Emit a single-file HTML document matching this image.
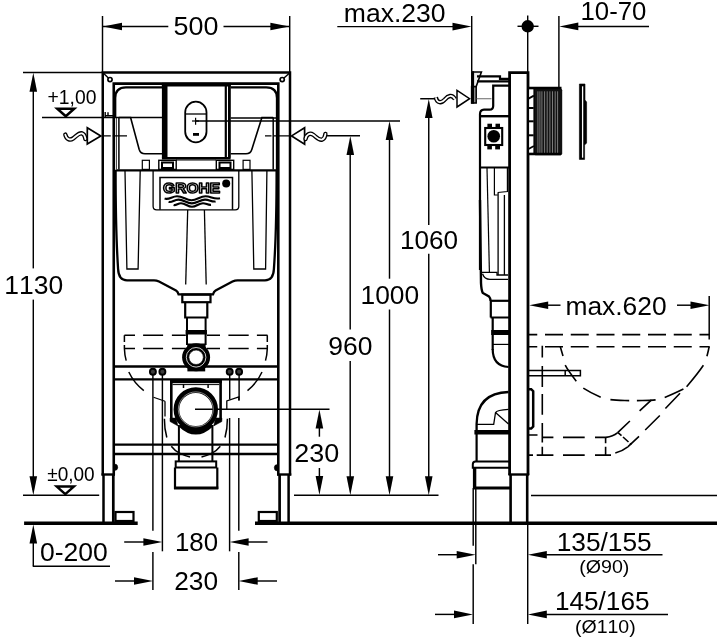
<!DOCTYPE html>
<html lang="en"><head><meta charset="utf-8"><title>Installation dimensions</title>
<style>html,body{margin:0;padding:0;background:#fff;}body{width:720px;height:640px;overflow:hidden;}svg{display:block;will-change:transform;}svg text{font-family:"Liberation Sans",sans-serif;fill:#000;stroke:none;font-kerning:none;}</style></head><body>
<svg width="720" height="640" viewBox="0 0 720 640" fill="none" stroke="#000" stroke-linecap="butt" stroke-linejoin="miter">
<rect x="0" y="0" width="720" height="640" fill="#fff" stroke="none"/>
<g id="dims">
<line x1="102.5" y1="16" x2="102.5" y2="72" stroke-width="1.45" />
<line x1="289.7" y1="16" x2="289.7" y2="72" stroke-width="1.45" />
<line x1="103" y1="26.5" x2="168.3" y2="26.5" stroke-width="1.45" />
<line x1="223.5" y1="26.5" x2="289.2" y2="26.5" stroke-width="1.45" />
<polygon points="103,26.5 122,22.7 122,30.3" fill="#000" stroke="none"/>
<polygon points="289.4,26.5 270.4,22.7 270.4,30.3" fill="#000" stroke="none"/>
<text transform="translate(173.56,35.35) scale(1.035,1)" font-size="26">500</text>
<line x1="23" y1="72.5" x2="102" y2="72.5" stroke-width="1.45" />
<line x1="33.3" y1="80" x2="33.3" y2="268.4" stroke-width="1.45" />
<line x1="33.3" y1="299.6" x2="33.3" y2="490" stroke-width="1.45" />
<polygon points="33.3,72.7 29.5,91.7 37.1,91.7" fill="#000" stroke="none"/>
<polygon points="33.3,495.2 29.5,476.2 37.1,476.2" fill="#000" stroke="none"/>
<text transform="translate(4.27,293.55) scale(1.017,1)" font-size="26">1130</text>
<text transform="translate(47.51,103.60) scale(0.986,1)" font-size="19.6">+1,00</text>
<path d="M57.3,108.8 H74.2 L65.75,116.3 Z" stroke-width="2.5" fill="none" />
<line x1="42" y1="117.5" x2="162" y2="117.5" stroke-width="1.45" />
<text transform="translate(47.26,481.05) scale(0.971,1)" font-size="19.6">±0,00</text>
<path d="M56.8,486.6 H73.8 L65.3,494.1 Z" stroke-width="2.5" fill="none" />
<line x1="23" y1="495.3" x2="99.2" y2="495.3" stroke-width="1.45" />
<line x1="33.3" y1="540" x2="33.3" y2="566.3" stroke-width="1.45" />
<line x1="32.8" y1="566.3" x2="110" y2="566.3" stroke-width="1.45" />
<polygon points="33.3,524.6 29.5,543.6 37.1,543.6" fill="#000" stroke="none"/>
<text transform="translate(39.98,560.75) scale(1.020,1)" font-size="26">0-200</text>
<line x1="124.2" y1="542" x2="150" y2="542" stroke-width="1.45" />
<polygon points="162.4,542 143.4,538.2 143.4,545.8" fill="#000" stroke="none"/>
<line x1="267.5" y1="542" x2="240" y2="542" stroke-width="1.45" />
<polygon points="229.6,542 248.6,538.2 248.6,545.8" fill="#000" stroke="none"/>
<text transform="translate(175.01,551.10) scale(0.994,1)" font-size="26">180</text>
<line x1="115" y1="581" x2="140" y2="581" stroke-width="1.45" />
<polygon points="153,581 134,577.2 134,584.8" fill="#000" stroke="none"/>
<line x1="277" y1="581" x2="250" y2="581" stroke-width="1.45" />
<polygon points="238.7,581 257.7,577.2 257.7,584.8" fill="#000" stroke="none"/>
<text transform="translate(174.23,589.85) scale(1.012,1)" font-size="26">230</text>
<line x1="152.9" y1="375" x2="152.9" y2="530.8" stroke-width="1.45" />
<line x1="152.9" y1="552" x2="152.9" y2="590" stroke-width="1.45" />
<line x1="162.4" y1="375" x2="162.4" y2="551.3" stroke-width="1.45" />
<line x1="229.6" y1="418" x2="229.6" y2="551.3" stroke-width="1.45" />
<line x1="238.8" y1="418" x2="238.8" y2="530.8" stroke-width="1.45" />
<line x1="238.8" y1="552" x2="238.8" y2="590" stroke-width="1.45" />
<line x1="195" y1="409.25" x2="329.5" y2="409.25" stroke-width="1.45" />
<line x1="319.4" y1="420" x2="319.4" y2="436.7" stroke-width="1.45" />
<line x1="319.4" y1="468" x2="319.4" y2="485" stroke-width="1.45" />
<polygon points="319.4,409.6 315.6,428.6 323.2,428.6" fill="#000" stroke="none"/>
<polygon points="319.4,495 315.6,476 323.2,476" fill="#000" stroke="none"/>
<text transform="translate(294.30,462.05) scale(1.037,1)" font-size="26">230</text>
<line x1="325" y1="135.75" x2="360" y2="135.75" stroke-width="1.45" />
<line x1="350.2" y1="145" x2="350.2" y2="329.5" stroke-width="1.45" />
<line x1="350.2" y1="361" x2="350.2" y2="485" stroke-width="1.45" />
<polygon points="350.3,135.9 346.5,154.9 354.1,154.9" fill="#000" stroke="none"/>
<polygon points="350.3,495.2 346.5,476.2 354.1,476.2" fill="#000" stroke="none"/>
<text transform="translate(328.23,355.35) scale(1.018,1)" font-size="26">960</text>
<line x1="196" y1="120.9" x2="400" y2="120.9" stroke-width="1.45" />
<line x1="389.5" y1="130" x2="389.5" y2="278.7" stroke-width="1.45" />
<line x1="389.5" y1="309.5" x2="389.5" y2="485" stroke-width="1.45" />
<polygon points="389.5,121 385.7,140 393.3,140" fill="#000" stroke="none"/>
<polygon points="389.5,495.2 385.7,476.2 393.3,476.2" fill="#000" stroke="none"/>
<text transform="translate(360.47,304.35) scale(1.014,1)" font-size="26">1000</text>
<line x1="420.2" y1="98.75" x2="436" y2="98.75" stroke-width="1.45" />
<line x1="428.75" y1="108" x2="428.75" y2="225" stroke-width="1.45" />
<line x1="428.75" y1="253.7" x2="428.75" y2="485" stroke-width="1.45" />
<polygon points="428.75,98.9 424.95,117.9 432.55,117.9" fill="#000" stroke="none"/>
<polygon points="428.75,495.2 424.95,476.2 432.55,476.2" fill="#000" stroke="none"/>
<text transform="translate(399.99,248.60) scale(1.005,1)" font-size="26">1060</text>
<line x1="294" y1="495.2" x2="438.5" y2="495.2" stroke-width="1.45" />
<line x1="337.3" y1="26.6" x2="460" y2="26.6" stroke-width="1.45" />
<polygon points="471.5,26.6 452.5,22.8 452.5,30.4" fill="#000" stroke="none"/>
<line x1="471.7" y1="16" x2="471.7" y2="71.5" stroke-width="1.45" />
<text transform="translate(343.81,21.75) scale(1.021,1)" font-size="26">max.230</text>
<circle cx="527.7" cy="26.3" r="6.2" stroke-width="0" fill="#000" stroke="none"/>
<line x1="517.5" y1="26.3" x2="538.5" y2="26.3" stroke-width="1.45" />
<line x1="527.7" y1="15.5" x2="527.7" y2="72" stroke-width="1.45" />
<line x1="558.9" y1="16" x2="558.9" y2="87.5" stroke-width="1.45" />
<polygon points="559.3,26.4 578.3,22.6 578.3,30.2" fill="#000" stroke="none"/>
<line x1="570" y1="26.4" x2="649" y2="26.4" stroke-width="1.45" />
<text transform="translate(580.52,20.35) scale(0.992,1)" font-size="26">10-70</text>
<polygon points="529.2,305.2 548.2,301.4 548.2,309.0" fill="#000" stroke="none"/>
<line x1="540" y1="305.2" x2="560.5" y2="305.2" stroke-width="1.45" />
<line x1="677" y1="305.2" x2="700" y2="305.2" stroke-width="1.45" />
<polygon points="709.5,305.2 690.5,301.4 690.5,309.0" fill="#000" stroke="none"/>
<text transform="translate(565.42,314.85) scale(1.016,1)" font-size="26">max.620</text>
<line x1="438" y1="554.7" x2="465" y2="554.7" stroke-width="1.45" />
<polygon points="475.7,554.7 456.7,550.9 456.7,558.5" fill="#000" stroke="none"/>
<polygon points="527.8,554.7 546.8,550.9 546.8,558.5" fill="#000" stroke="none"/>
<line x1="540" y1="554.7" x2="662.5" y2="554.7" stroke-width="1.45" />
<text transform="translate(556.73,550.60) scale(1.011,1)" font-size="26">135/155</text>
<text transform="translate(579.18,573.05) scale(1.056,1)" font-size="18.6">(Ø90)</text>
<line x1="435" y1="614.4" x2="460" y2="614.4" stroke-width="1.45" />
<polygon points="473,614.4 454,610.6 454,618.2" fill="#000" stroke="none"/>
<polygon points="527.8,614.4 546.8,610.6 546.8,618.2" fill="#000" stroke="none"/>
<line x1="540" y1="614.4" x2="668" y2="614.4" stroke-width="1.45" />
<text transform="translate(554.99,609.85) scale(1.006,1)" font-size="26">145/165</text>
<text transform="translate(574.94,632.65) scale(1.050,1)" font-size="18.6">(Ø110)</text>
<line x1="475.8" y1="488" x2="475.8" y2="564.3" stroke-width="1.45" />
<line x1="473.2" y1="488" x2="473.2" y2="545.7" stroke-width="1.45" />
<line x1="473.2" y1="564.3" x2="473.2" y2="624" stroke-width="1.45" />
<line x1="527.7" y1="523" x2="527.7" y2="624" stroke-width="1.45" />
<line x1="531" y1="495.4" x2="717" y2="495.4" stroke-width="1.45" />
</g>
<g id="ground">
<line x1="24.1" y1="523.2" x2="137.7" y2="523.2" stroke-width="3.5" />
<line x1="255" y1="523.2" x2="717" y2="523.2" stroke-width="3.5" />
</g>
<g id="front">
<path d="M102.75,475.5 V72.5 H290 V475.5" stroke-width="2.5" fill="none" />
<path d="M113.75,475.5 V83.6 H278.3 V475.5" stroke-width="2.6" fill="none" />
<line x1="101.5" y1="474.5" x2="115" y2="474.5" stroke-width="2.4" />
<line x1="277" y1="474.5" x2="291.3" y2="474.5" stroke-width="2.4" />
<line x1="103.5" y1="474" x2="103.5" y2="523" stroke-width="2.5" />
<line x1="113.3" y1="474" x2="113.3" y2="523" stroke-width="2.7" />
<line x1="279.6" y1="474" x2="279.6" y2="523" stroke-width="2.7" />
<line x1="288.6" y1="474" x2="288.6" y2="523" stroke-width="2.5" />
<rect x="115.5" y="512" width="18.0" height="9" stroke-width="2.2" fill="none" />
<rect x="258.8" y="512" width="18.0" height="9" stroke-width="2.2" fill="none" />
<circle cx="110" cy="79.6" r="2.1" stroke-width="1.7" fill="none" />
<line x1="103.5" y1="73.3" x2="108.4" y2="78" stroke-width="1.4" />
<circle cx="282.2" cy="79.6" r="2.1" stroke-width="1.7" fill="none" />
<line x1="289.3" y1="73.3" x2="284" y2="78" stroke-width="1.4" />
<path d="M114.5,464 a3,3 0 0 1 0,6.5 Z" stroke-width="0.5" fill="#000" />
<path d="M277.5,464.5 a3,3 0 0 0 0,6.5 Z" stroke-width="0.5" fill="#000" />
<line x1="113.75" y1="366.5" x2="278.3" y2="366.5" stroke-width="2.3" />
<line x1="113.75" y1="379.4" x2="278.3" y2="379.4" stroke-width="2.3" />
<line x1="113.75" y1="444.6" x2="278.3" y2="444.6" stroke-width="2.3" />
<line x1="113.75" y1="454" x2="278.3" y2="454" stroke-width="2.3" />
<path d="M115.2,118 V98 Q115.2,87.3 126,87.3 H162" stroke-width="2.3" fill="none" />
<path d="M277,170 V98 Q277,87.3 266.2,87.3 H230.5" stroke-width="2.3" fill="none" />
<rect x="161.9" y="84" width="5.6" height="73.5" stroke-width="0" fill="#000" stroke="none"/>
<line x1="225.8" y1="84" x2="225.8" y2="157.5" stroke-width="2.2" />
<line x1="229.4" y1="84" x2="229.4" y2="157.5" stroke-width="2.8" />
<line x1="161.9" y1="158.3" x2="230.6" y2="158.3" stroke-width="2.4" />
<line x1="161.9" y1="84.6" x2="230.6" y2="84.6" stroke-width="3.6" />
<rect x="185.2" y="101.7" width="21.3" height="40.6" stroke-width="1.8" fill="none" rx="10.65" ry="10.65"/>
<line x1="185.5" y1="114" x2="206" y2="114" stroke-width="1.3" />
<line x1="195.6" y1="117.8" x2="195.6" y2="124.8" stroke-width="1.2" />
<line x1="192" y1="121" x2="199" y2="121" stroke-width="1.2" />
<rect x="193" y="133" width="6" height="2.8" stroke-width="0" fill="#000" stroke="none"/>
<line x1="230.6" y1="118" x2="276" y2="118" stroke-width="1.45" />
<path d="M118.9,117.5 V169.4" stroke-width="1.5" fill="none" />
<line x1="116.4" y1="118" x2="116.4" y2="169" stroke-width="0.8" />
<path d="M118.8,117.5 H130.6 L139.2,149.5 Q140.5,153.8 145,153.8 H162" stroke-width="1.6" fill="none" />
<path d="M273.2,117.5 V169.4" stroke-width="1.5" fill="none" />
<path d="M273.2,117.5 H261.9 L251.8,149.5 Q250.5,153.8 246,153.8 H230.6" stroke-width="1.6" fill="none" />
<path d="M105.2,112 V117 M104.8,115.8 H113 M108,112.3 V115.5" stroke-width="1.4" fill="none" />
<path d="M103.7,135.8 L110.8,135.8 M112.8,135.8 L127,135.8" stroke-width="1.3" fill="none" />
<path d="M265,135.8 L271.5,135.8 M274,135.8 L291,135.8" stroke-width="1.3" fill="none" />
<rect x="142.3" y="160.3" width="7.1" height="9.1" stroke-width="1.2" fill="none" />
<rect x="243.1" y="160.3" width="6.9" height="9.1" stroke-width="1.2" fill="none" />
<rect x="158.8" y="160.3" width="17.4" height="9.1" stroke-width="1.4" fill="none" />
<rect x="162" y="162.5" width="11" height="5.5" stroke-width="2" fill="none" />
<rect x="216.3" y="160.3" width="17.4" height="9.1" stroke-width="1.4" fill="none" />
<rect x="219.5" y="162.5" width="11.0" height="5.5" stroke-width="2" fill="none" />
<line x1="176" y1="160" x2="216" y2="160" stroke-width="1" />
<line x1="115.6" y1="170.3" x2="276.6" y2="170.3" stroke-width="2.2" />
<path d="M115.6,170 Q115.6,232 118.1,269 Q118.6,280.3 127,280.3 H154 Q156.5,280.3 159,281.6 L176,290.6 Q177.8,291.6 178.6,294.4 H213 Q213.8,291.6 215.6,290.6 L232.5,281.6 Q235,280.3 237.5,280.3 H265 Q273.4,280.3 273.9,269 Q276.6,232 276.6,170" stroke-width="2.3" fill="none" />
<path d="M125,171 L126.9,269 H138.1 L140.2,171" stroke-width="1.3" fill="none" />
<path d="M251.9,171 L253.8,269 H265.6 L266.9,171" stroke-width="1.3" fill="none" />
<path d="M153.1,170 V206.2 Q153.1,209.8 156.7,209.8 H235.2 Q238.8,209.8 238.8,206.2 V170" stroke-width="1.3" fill="none" />
<path d="M160,209.8 V177.5 H232.5 V209.8" stroke-width="1.5" fill="none" />
<text x="163" y="193.2" font-size="14.6" font-weight="bold" textLength="57.2" lengthAdjust="spacingAndGlyphs" style="fill:#fff;stroke:#000;stroke-width:1.5px;stroke-linejoin:round">GROHE</text>
<circle cx="226.2" cy="183.6" r="4" stroke-width="0" fill="#000" stroke="none"/>
<path d="M164.6,198.6 C169,200.2 172,196.2 177,196.2 C183,196.2 186,200.2 191.5,200.2 C197,200.2 200,196.2 205.5,196.2 C211,196.2 214,199.8 220,198.2" stroke-width="2.1" fill="none" />
<path d="M168.6,201.8 C172,203 174,199.6 178.5,199.6 C184,199.6 186.5,203.4 191.8,203.4 C197,203.4 200,199.6 205,199.6 C209.5,199.6 212,202.4 215.6,201.4" stroke-width="2.1" fill="none" />
<path d="M173.6,205 C176,205.8 178,203.2 181,203.2 C185.5,203.2 187.5,206.8 192,206.8 C196.5,206.8 198.5,203.2 203,203.2 C206,203.2 208,205.2 211,204.8" stroke-width="2.1" fill="none" />
<line x1="187.7" y1="210" x2="185.7" y2="284.4" stroke-width="1.3" />
<line x1="204.4" y1="210" x2="206.2" y2="284.4" stroke-width="1.3" />
<rect x="182.3" y="294.6" width="28.2" height="7.6" stroke-width="2.2" fill="none" />
<path d="M185.2,302 V317.5 H207.3 V302" stroke-width="2.2" fill="none" />
<path d="M187,317.5 V345 M205.6,317.5 V345" stroke-width="2" fill="none" />
<rect x="185.6" y="330" width="21.3" height="4.5" stroke-width="0" fill="#000" stroke="none"/>
<circle cx="196.1" cy="357.3" r="14" stroke-width="0" fill="#000" stroke="none"/>
<rect x="187.3" y="343.5" width="18.3" height="4.5" stroke-width="0" fill="#000" stroke="none"/>
<rect x="187.4" y="366" width="17.8" height="5.4" stroke-width="0" fill="#000" stroke="none"/>
<circle cx="196.1" cy="357.3" r="9.8" stroke-width="0.8" fill="none" stroke="#fff"/>
<circle cx="196.1" cy="357.3" r="7.2" stroke-width="0" fill="#fff" stroke="none"/>
<circle cx="196.1" cy="357.3" r="7.2" stroke-width="0.6" fill="none" stroke="#000"/>
<circle cx="152.9" cy="371.8" r="3" stroke-width="1.9" fill="#3a3a3a" />
<circle cx="162.4" cy="371.8" r="3" stroke-width="1.9" fill="#3a3a3a" />
<circle cx="229.7" cy="371.8" r="3" stroke-width="1.9" fill="#3a3a3a" />
<circle cx="239.1" cy="371.8" r="3" stroke-width="1.9" fill="#3a3a3a" />
<path d="M153.5,397.2 L165,401.3" stroke-width="1.2" fill="none" />
<path d="M226.8,409.3 V401 L238.8,396.9 V400.5" stroke-width="1.3" fill="none" />
<line x1="229.7" y1="375" x2="229.7" y2="399.5" stroke-width="1.45" />
<line x1="239.1" y1="375" x2="239.1" y2="400.5" stroke-width="1.45" />
<line x1="165" y1="401.3" x2="165" y2="416.5" stroke-width="1.3" />
<path d="M124.4,335.3 L135,335.3 M143.1,335.3 L163.1,335.3 M171.9,335.3 L185.8,335.3 M206.9,335.3 L220,335.3 M228.4,335.3 L248.7,335.3 M256.9,335.3 L267.5,335.3" stroke-width="1.5" fill="none" />
<path d="M124.4,348.5 L135,348.5 M143.1,348.5 L163.1,348.5 M171.9,348.5 L185.8,348.5 M206.9,348.5 L220,348.5 M228.4,348.5 L248.7,348.5 M256.9,348.5 L267.5,348.5" stroke-width="1.5" fill="none" />
<path d="M124.4,335.3 V342 M124.4,345 V348.5 Q124.6,355 126.2,360.6" stroke-width="1.5" fill="none" />
<path d="M267.3,335.3 V342 M267.3,345 V348.5 Q267.1,355 265.5,360.6" stroke-width="1.5" fill="none" />
<path d="M128.8,372 Q134,383 143.8,390.6" stroke-width="1.5" fill="none" />
<path d="M262,372 Q257,383 247.5,390.6" stroke-width="1.5" fill="none" />
<path d="M164.4,418.8 Q164.4,429 166.8,437.5" stroke-width="1.5" fill="none" />
<path d="M227.4,418.8 Q227.4,429 225,437.5" stroke-width="1.5" fill="none" />
<path d="M171.3,446.3 Q175,451 179.5,453.2 Q184,455.5 190,457" stroke-width="1.5" fill="none" />
<path d="M220.3,446.3 Q216.5,451 212,453.2 Q207.5,455.5 201.5,457" stroke-width="1.5" fill="none" />
<rect x="170" y="379.4" width="51.9" height="3.8" stroke-width="0" fill="#000" stroke="none"/>
<line x1="172.5" y1="384.6" x2="219.4" y2="384.6" stroke-width="1" />
<line x1="171.3" y1="380" x2="171.3" y2="420" stroke-width="2.6" />
<line x1="220.6" y1="380" x2="220.6" y2="420" stroke-width="2.6" />
<line x1="183.5" y1="384" x2="183.5" y2="388" stroke-width="1.5" />
<line x1="208.1" y1="384" x2="208.1" y2="388" stroke-width="1.5" />
<circle cx="195.8" cy="409.5" r="19.4" stroke-width="5.6" fill="none" />
<circle cx="195.8" cy="409.4" r="17.5" stroke-width="0.5" fill="none" stroke="#fff"/>
<path d="M176,418 L170,418 V421.5 L178,426 Z" stroke-width="0.5" fill="#000" />
<path d="M215.6,418 L221.9,418 V421.5 L213.6,426 Z" stroke-width="0.5" fill="#000" />
<path d="M180,425 Q195.8,440 211.6,425" stroke-width="4" fill="none" />
<line x1="178.9" y1="425" x2="178.9" y2="461" stroke-width="2" />
<line x1="212.4" y1="425" x2="212.4" y2="461" stroke-width="2" />
<rect x="175.7" y="461.4" width="40.5" height="6.1" stroke-width="2" fill="none" />
<path d="M175,467.5 V488 H217.3 V467.5" stroke-width="2.2" fill="none" />
<line x1="174" y1="488" x2="218.3" y2="488" stroke-width="3" />
</g>
<g id="inlets">
<path d="M87.3,127.8 L100.8,135.9 L87.3,144.1 Z" stroke-width="1.7" fill="none" />
<path d="M65.3,134.6 C66.5,139.6 70,140.6 73.2,138.4 S79,132.4 82,133.4 S85,137 85.4,139" stroke-width="4.4" fill="none" stroke-linecap="round"/>
<path d="M65.3,134.6 C66.5,139.6 70,140.6 73.2,138.4 S79,132.4 82,133.4 S85,137 85.4,139" stroke-width="1.8" fill="none" stroke="#fff" stroke-linecap="round"/>
<path d="M304.6,127.8 L291.6,135.9 L304.6,144.1 Z" stroke-width="1.7" fill="none" />
<path d="M305.5,139 C306.5,134 310,132.6 313.2,134.8 S319,140.6 322,139.6 S325,136 325.4,134" stroke-width="4.4" fill="none" stroke-linecap="round"/>
<path d="M305.5,139 C306.5,134 310,132.6 313.2,134.8 S319,140.6 322,139.6 S325,136 325.4,134" stroke-width="1.8" fill="none" stroke="#fff" stroke-linecap="round"/>
</g>
<g id="side">
<path d="M509.6,475 V72.6 H528 V475" stroke-width="2.8" fill="none" />
<line x1="508.5" y1="474.5" x2="529.2" y2="474.5" stroke-width="2.4" />
<line x1="510.6" y1="474" x2="510.6" y2="523" stroke-width="2.6" />
<line x1="527.2" y1="474" x2="527.2" y2="523" stroke-width="2.6" />
<line x1="435" y1="98.75" x2="436" y2="98.75" stroke-width="1.45" />
<path d="M435.8,97.3 C437,103.2 441.5,103.6 445,99.4 C448,95.6 452,94.2 455,99.2" stroke-width="4.4" fill="none" />
<path d="M435.8,97.3 C437,103.2 441.5,103.6 445,99.4 C448,95.6 452,94.2 455,99.2" stroke-width="1.7" fill="none" stroke="#fff"/>
<path d="M457,90.3 L469.6,98.7 L457,107 Z" stroke-width="1.5" fill="none" />
<rect x="471.6" y="86.5" width="4.6" height="16.5" stroke-width="1.5" fill="#999" />
<path d="M472,86.5 V72 H481.4 L476.2,86.5 Z" stroke-width="1.6" fill="#eee" />
<line x1="472.6" y1="71.2" x2="472.6" y2="103.7" stroke-width="3" />
<path d="M477,76.3 H500 V78.8 H509 M477,81.4 H509" stroke-width="2.2" fill="none" />
<line x1="476.5" y1="98.75" x2="491.5" y2="98.75" stroke-width="1" stroke="#666"/>
<path d="M509,85.6 H493.2 V106 Q493.2,109.6 489.5,109.7 H484 Q480,109.9 480,114 V270" stroke-width="2.2" fill="none" />
<line x1="480" y1="116.2" x2="509" y2="116.2" stroke-width="2.4" />
<rect x="485.2" y="128" width="17.0" height="17" stroke-width="2.1" fill="none" />
<rect x="487.4" y="123.7" width="4.6" height="4.3" stroke-width="0" fill="#000" stroke="none"/>
<rect x="495.5" y="123.7" width="4.5" height="4.3" stroke-width="0" fill="#000" stroke="none"/>
<rect x="487.3" y="145" width="4.6" height="4.4" stroke-width="0" fill="#000" stroke="none"/>
<rect x="495.2" y="145" width="4.8" height="4.4" stroke-width="0" fill="#000" stroke="none"/>
<circle cx="493.75" cy="136.3" r="6.3" stroke-width="0" fill="#000" stroke="none"/>
<line x1="480" y1="167.5" x2="509" y2="167.5" stroke-width="2" />
<path d="M487,168 L489.4,272" stroke-width="1.2" fill="none" />
<path d="M494.4,168 V195 H497.8" stroke-width="1.2" fill="none" />
<path d="M507.4,168 V191.5 L497.8,192.5" stroke-width="1.2" fill="none" />
<path d="M498.1,192.5 V275 M504.4,195 V275" stroke-width="1.3" fill="none" />
<path d="M481,272.3 H497 V275 H508" stroke-width="1.3" fill="none" />
<path d="M480,200 L481,283 Q481.3,290 482.8,293 L489,296.5 Q490.5,298 490.6,301" stroke-width="2.4" fill="none" />
<path d="M482.5,273.8 Q484.5,279.4 490,279.4 H508" stroke-width="1.3" fill="none" />
<line x1="490" y1="300.8" x2="509" y2="300.8" stroke-width="2.2" />
<path d="M490.8,300.8 V317.5 M492.7,317.5 V350" stroke-width="2.2" fill="none" />
<line x1="490.5" y1="317.5" x2="509" y2="317.5" stroke-width="2" />
<rect x="491.2" y="330" width="17.8" height="5" stroke-width="0" fill="#000" stroke="none"/>
<line x1="492.7" y1="344.4" x2="509" y2="344.4" stroke-width="1.2" />
<path d="M492.7,349 Q492.7,366 508.5,367" stroke-width="2.2" fill="none" />
<path d="M508.5,392 Q477,393 476.6,424 V430" stroke-width="2.3" fill="none" />
<path d="M508.5,409.4 Q497,410 495.5,412.6 L493.7,424.4 H477" stroke-width="1.3" fill="none" />
<line x1="495.5" y1="412.6" x2="508.5" y2="424" stroke-width="1.3" />
<rect x="474.4" y="430" width="34.6" height="4.5" stroke-width="0" fill="#000" stroke="none"/>
<line x1="476.6" y1="434" x2="476.6" y2="461.5" stroke-width="2.2" />
<path d="M509,461.5 H475.5 Q472.8,461.5 472.8,464.5 V467.7 H509" stroke-width="2" fill="none" />
<path d="M474.6,467.7 V488" stroke-width="3.4" fill="none" />
<line x1="473" y1="488" x2="511" y2="488" stroke-width="3" />
<rect x="533.7" y="88.5" width="28.5" height="66.8" stroke-width="0" fill="#111" stroke="none" rx="1.8"/>
<line x1="537.9" y1="91.3" x2="537.9" y2="153" stroke-width="0.7" stroke="#a8a8a8"/>
<line x1="539.9" y1="91.3" x2="539.9" y2="153" stroke-width="0.7" stroke="#a8a8a8"/>
<line x1="541.9" y1="91.3" x2="541.9" y2="153" stroke-width="0.7" stroke="#a8a8a8"/>
<line x1="544.6" y1="91.3" x2="544.6" y2="153" stroke-width="0.7" stroke="#a8a8a8"/>
<line x1="547.2" y1="91.3" x2="547.2" y2="153" stroke-width="0.7" stroke="#a8a8a8"/>
<line x1="549.9" y1="91.3" x2="549.9" y2="153" stroke-width="0.7" stroke="#a8a8a8"/>
<line x1="552.5" y1="91.3" x2="552.5" y2="153" stroke-width="0.7" stroke="#a8a8a8"/>
<line x1="555.2" y1="91.3" x2="555.2" y2="153" stroke-width="0.7" stroke="#a8a8a8"/>
<line x1="557.6" y1="91.3" x2="557.6" y2="153" stroke-width="0.7" stroke="#a8a8a8"/>
<rect x="528.5" y="88.5" width="5.5" height="65.0" stroke-width="1.2" fill="#fff" />
<line x1="528" y1="88" x2="561.5" y2="88" stroke-width="2.4" />
<line x1="528.5" y1="108" x2="533.7" y2="108" stroke-width="2" />
<line x1="528.5" y1="121.3" x2="533.7" y2="121.3" stroke-width="2" />
<line x1="528.5" y1="135.3" x2="533.7" y2="135.3" stroke-width="2" />
<line x1="528.5" y1="98.6" x2="533.9" y2="95.6" stroke-width="1.8" />
<line x1="528.5" y1="149" x2="533.9" y2="146" stroke-width="1.8" />
<line x1="528" y1="154" x2="561" y2="154" stroke-width="2.6" />
<path d="M579.4,84 H585 V100 L586.6,102 V143 L584.6,145 V159.4 H579.4 Z" stroke-width="0.6" fill="#000" />
<line x1="582.6" y1="86.3" x2="582.6" y2="157.7" stroke-width="1.3" stroke="#fff"/>
<line x1="528.7" y1="334.6" x2="709.7" y2="334.6" stroke-width="1.6" stroke-dasharray="18 7.75" stroke-dashoffset="9.45"/>
<line x1="528.7" y1="346.8" x2="709.7" y2="346.8" stroke-width="1.6" stroke-dasharray="18 7.75" stroke-dashoffset="9.45"/>
<line x1="709.2" y1="296" x2="709.2" y2="339.5" stroke-width="1.5" />
<path d="M560.3,346.8 C561.20,349.87 562.18,352.91 563,356" stroke-width="1.6" fill="none" />
<path d="M565.2,365.2 C568.23,370.94 572.29,376.10 576.3,381.2" stroke-width="1.6" fill="none" />
<path d="M583.3,388.2 C588.76,391.78 594.68,394.67 600.7,397.2" stroke-width="1.6" fill="none" />
<path d="M610.4,399.6 C616.63,400.34 622.93,400.36 629.2,400.6" stroke-width="1.6" fill="none" />
<path d="M636.9,400.6 C643.14,400.43 649.40,400.61 655.6,399.9" stroke-width="1.6" fill="none" />
<path d="M664.7,397.4 C671.06,394.91 677.26,392.00 683.4,389" stroke-width="1.6" fill="none" />
<path d="M686.6,386.7 C692.45,379.74 698.36,372.77 703.4,365.2" stroke-width="1.6" fill="none" />
<path d="M706.9,356.2 C707.87,353.12 708.43,349.93 709.2,346.8" stroke-width="1.6" fill="none" />
<path d="M542.3,345.7 L542.3,357.5 M542.3,365.9 L542.3,387 M542.3,393.9 L542.3,414.8 M542.3,423 L542.3,442.6 M542.3,446.8 L542.3,455.5" stroke-width="1.6" fill="none" />
<path d="M529,435 L537.5,435 M542.3,437.4 L553.4,437.4 M563,437.4 L584.7,437.4 M595,437.4 L606.2,437.4" stroke-width="1.6" fill="none" />
<path d="M529,455.1 L533,455.1 M536.7,455.1 L553.4,455.1 M563,455.1 L584.7,455.1 M595,455.1 L606,455.1" stroke-width="1.6" fill="none" />
<path d="M605.6,437 L605.6,443.3 M605.6,446.8 L605.6,455" stroke-width="1.6" fill="none" />
<path d="M606,437.4 Q613,436.6 617.4,432.9" stroke-width="1.6" fill="none" />
<path d="M617.4,432.9 L629.9,421 M639.6,410.9 L651.5,399.9" stroke-width="1.6" fill="none" />
<path d="M606,455.1 H611 M615.3,453 Q622.5,451 627.8,446.8" stroke-width="1.6" fill="none" />
<path d="M627.8,446.8 L639,436.3 M645.2,430 L659.8,415.5 M665.4,408.5 L680,393.2" stroke-width="1.6" fill="none" />
<path d="M618,432.6 L621.5,435.7 M623,437 L628.5,442 M629.9,443.4 L631.3,444.7" stroke-width="1.6" fill="none" />
<path d="M528,370.4 H580.4 V375.8 H528 M565.2,370.4 V375.8" stroke-width="1.5" fill="none" />
<path d="M528,389.2 H531.2 L533.2,391.2 V426.5 L531.2,428.6 H528" stroke-width="2.5" fill="none" />
</g>
</svg></body></html>
